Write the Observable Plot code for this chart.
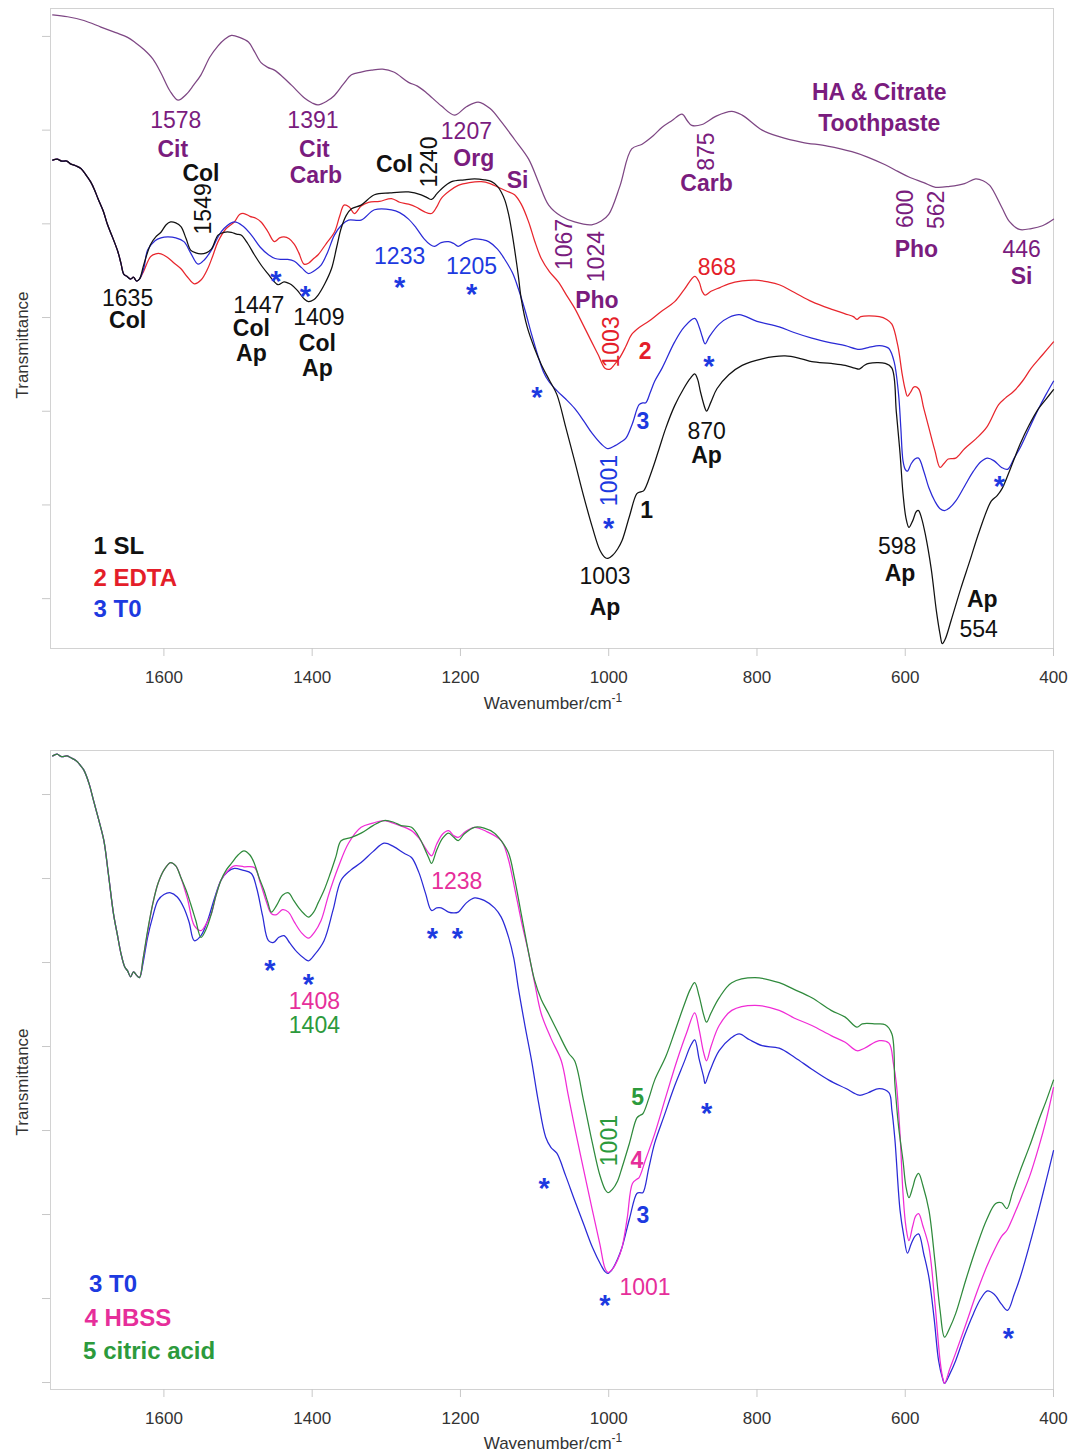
<!DOCTYPE html>
<html><head><meta charset="utf-8">
<script src="https://cdn.jsdelivr.net/npm/d3@7"></script>
<script src="https://cdn.jsdelivr.net/npm/@observablehq/plot@0.6"></script>
<style>
html,body{margin:0;padding:0;background:#fff;}
svg{display:block;}
#bottom{margin-top:20px;}
</style></head><body>
<div id="top"></div><div id="bottom"></div>
<script>
// ---------- DATA (wavenumber cm-1, transmittance a.u.) ----------
const xTicks = [1600, 1400, 1200, 1000, 800, 600, 400];

const toothpaste = [[1750,62.3],[1730,62.1],[1708,61.7],[1685,61.0],[1665,60.4],[1649,59.9],[1638,59.3],[1627,58.6],[1615,57.6],[1604,56.1],[1592,54.2],[1581,53.2],[1570,53.8],[1560,54.8],[1550,55.9],[1538,57.8],[1527,59.0],[1518,59.7],[1509,60.1],[1498,59.9],[1486,59.4],[1478,58.4],[1469,57.2],[1460,56.7],[1451,56.4],[1440,55.7],[1428,54.8],[1410,53.4],[1400,52.9],[1392,52.7],[1380,53.1],[1370,53.7],[1358,54.9],[1347,55.9],[1334,56.2],[1320,56.4],[1305,56.5],[1290,56.2],[1270,55.1],[1258,54.7],[1246,54.0],[1226,52.6],[1208,51.6],[1192,52.5],[1176,53.0],[1160,52.3],[1145,50.9],[1127,49.0],[1108,46.9],[1095,44.5],[1081,42.0],[1064,40.8],[1046,40.2],[1023,39.9],[1010,40.3],[1000,41.0],[985,44.0],[969,48.0],[955,48.5],[940,49.4],[928,50.3],[915,51.0],[901,51.7],[894,51.0],[888,50.5],[874,50.6],[855,51.5],[834,52.0],[820,51.6],[793,50.0],[770,49.3],[739,48.7],[705,48.3],[672,47.7],[650,47.1],[627,46.3],[610,45.6],[595,45.0],[575,44.4],[559,43.9],[540,44.0],[520,44.3],[505,44.8],[495,44.6],[486,44.1],[470,41.8],[459,40.2],[446,39.4],[430,39.5],[415,39.8],[400,40.5]];

const startTop = [[1750,46.8],[1744,46.9],[1738,46.7],[1731,46.7],[1726,46.4],[1719,46.2],[1712,45.9],[1705,45.2],[1699,44.5],[1694,43.7],[1689,42.7],[1682,41.4],[1676,39.9],[1669,38.5],[1662,37.0],[1658,35.8],[1654,34.6],[1650,34.4],[1645,34.1],[1641,34.3],[1637,33.9],[1633,34.1]];

const sl = [[1627,35.7],[1618,37.8],[1611,38.6],[1604,39.1],[1597,39.9],[1591,40.2],[1584,40.1],[1577,39.7],[1570,38.4],[1564,37.2],[1557,36.9],[1550,36.8],[1543,36.9],[1536,37.3],[1527,38.8],[1519,39.1],[1509,39.1],[1502,38.9],[1496,38.8],[1487,37.9],[1478,36.7],[1468,35.5],[1459,34.6],[1452,33.9],[1446,33.5],[1438,33.8],[1433,33.7],[1428,33.5],[1420,32.9],[1411,32.0],[1405,31.7],[1398,31.9],[1392,32.4],[1383,33.6],[1374,35.2],[1367,37.5],[1361,39.5],[1354,40.9],[1347,41.6],[1334,42.0],[1316,43.1],[1295,43.3],[1270,43.4],[1253,43.1],[1245,42.8],[1239,42.6],[1232,43.2],[1226,43.7],[1212,44.5],[1195,44.7],[1181,44.8],[1168,44.7],[1158,44.5],[1150,44.0],[1145,43.4],[1140,42.5],[1135,41.0],[1131,39.3],[1127,37.3],[1122,34.5],[1118,32.0],[1110,29.0],[1100,26.7],[1091,25.0],[1080,23.3],[1070,21.8],[1058,18.3],[1046,14.7],[1034,11.0],[1022,7.6],[1012,5.2],[1005,4.4],[1001,4.3],[995,4.6],[988,5.3],[982,6.2],[972,8.8],[962,11.2],[957,11.4],[953,11.5],[942,13.6],[932,16.0],[923,18.2],[911,20.6],[899,22.4],[890,23.5],[884,24.0],[880,23.4],[876,22.0],[870,20.3],[868,20.0],[862,21.0],[854,22.4],[838,23.9],[820,24.9],[793,25.6],[762,25.9],[740,25.6],[726,25.3],[700,25.1],[681,24.9],[668,24.6],[662,24.5],[655,24.9],[649,25.1],[627,25.1],[618,24.6],[612,19.9],[607,15.5],[603,11.2],[599,8.6],[595,7.6],[590,8.3],[585,9.3],[582,9.4],[578,8.6],[573,6.9],[565,3.2],[558,-1.3],[553,-3.8],[550,-4.8],[546,-4.3],[538,-2.3],[525,1.1],[513,4.0],[500,7.2],[484,10.4],[476,11.0],[469,11.8],[458,13.9],[445,16.5],[433,18.5],[420,20.3],[410,21.3],[400,22.3]];

const edta = [[1627,35.0],[1618,36.5],[1611,36.8],[1604,36.8],[1595,36.4],[1586,35.8],[1577,35.2],[1568,34.3],[1559,33.6],[1550,34.0],[1541,35.2],[1534,36.6],[1527,38.1],[1516,39.5],[1505,40.2],[1498,41.0],[1492,41.1],[1484,40.8],[1476,40.6],[1469,40.2],[1460,39.2],[1451,38.1],[1444,38.5],[1438,38.6],[1431,38.4],[1424,37.8],[1418,36.9],[1411,35.7],[1405,35.8],[1398,36.3],[1392,36.7],[1381,37.9],[1370,39.1],[1363,40.8],[1357,42.0],[1350,41.8],[1343,41.1],[1334,41.9],[1324,42.3],[1309,42.4],[1293,42.7],[1282,42.3],[1270,42.1],[1260,41.8],[1249,41.3],[1239,41.1],[1232,41.8],[1226,42.7],[1215,43.5],[1203,44.1],[1188,44.4],[1172,44.5],[1160,44.3],[1149,43.9],[1138,43.5],[1127,43.1],[1118,42.1],[1108,40.2],[1100,38.2],[1091,36.3],[1080,34.9],[1068,33.8],[1057,32.4],[1046,31.0],[1035,29.3],[1023,27.4],[1014,26.0],[1005,24.6],[998,24.5],[992,25.0],[986,25.6],[977,26.9],[969,28.2],[958,29.0],[946,29.6],[930,30.6],[911,31.7],[898,33.0],[884,34.4],[878,33.8],[874,32.8],[870,32.4],[862,32.8],[850,33.2],[838,33.6],[820,33.9],[803,34.0],[785,33.8],[770,33.5],[750,32.7],[726,31.7],[700,30.9],[681,30.4],[670,30.1],[665,29.8],[660,30.1],[635,30.1],[625,29.8],[618,29.3],[610,27.0],[604,23.9],[600,22.3],[597,21.6],[593,22.0],[588,22.6],[582,22.4],[575,20.3],[568,18.2],[560,15.8],[553,14.0],[548,14.4],[542,14.9],[532,15.0],[520,16.0],[504,17.1],[490,18.3],[474,20.7],[465,21.4],[454,22.1],[442,23.2],[430,24.6],[415,26.0],[400,27.4]];

const t0Top = [[1627,35.3],[1622,37.2],[1612,38.2],[1604,38.5],[1595,38.6],[1584,38.5],[1573,38.1],[1564,36.9],[1554,35.7],[1545,36.2],[1536,37.2],[1527,38.6],[1519,39.5],[1505,40.2],[1494,39.8],[1482,38.8],[1470,37.5],[1459,36.7],[1450,36.3],[1442,36.2],[1433,36.2],[1424,36.0],[1414,35.3],[1405,34.7],[1397,35.0],[1388,35.6],[1379,37.0],[1370,38.8],[1360,39.9],[1351,40.4],[1334,40.4],[1316,41.5],[1293,41.5],[1282,41.2],[1270,40.5],[1260,39.6],[1249,38.4],[1241,37.8],[1235,37.6],[1226,38.0],[1216,38.1],[1209,37.9],[1203,37.6],[1192,38.1],[1181,38.4],[1170,38.3],[1162,38.1],[1150,37.3],[1141,36.3],[1130,34.8],[1122,33.1],[1113,30.8],[1104,28.2],[1095,25.8],[1088,24.2],[1081,23.2],[1070,22.2],[1058,21.3],[1046,20.3],[1034,19.0],[1022,17.6],[1010,16.5],[1001,16.0],[992,16.3],[984,16.7],[977,17.1],[968,18.7],[959,20.7],[954,20.9],[950,20.9],[944,22.0],[938,23.2],[928,24.6],[911,27.4],[898,29.0],[884,29.9],[878,29.0],[874,28.0],[870,27.2],[864,28.0],[851,29.3],[838,30.0],[824,30.3],[800,29.6],[770,29.0],[750,28.4],[726,27.8],[700,27.3],[681,27.0],[662,26.6],[650,26.8],[635,27.0],[627,26.9],[622,26.7],[615,25.3],[609,21.8],[606,18.3],[603,14.7],[600,13.8],[597,13.6],[592,14.4],[587,14.9],[582,15.0],[575,13.6],[568,11.8],[560,10.4],[553,9.6],[547,9.4],[540,9.7],[532,10.4],[520,12.0],[508,13.6],[498,14.6],[489,15.0],[480,14.7],[470,14.0],[462,13.8],[453,15.0],[445,16.1],[432,18.3],[420,20.3],[410,21.8],[400,23.2]];

const startBottom = [[1750,74.6],[1744,74.8],[1738,74.5],[1731,74.6],[1726,74.4],[1718,74.0],[1713,73.5],[1708,72.9],[1701,71.3],[1695,69.3],[1688,67.0],[1681,64.5],[1675,60.6],[1668,55.8],[1663,53.4],[1658,51.1],[1653,49.5],[1649,49.0],[1645,48.3],[1641,48.9],[1637,48.5],[1633,48.2]];

const t0Bottom = [[1628,50.0],[1622,53.0],[1615,55.5],[1608,57.4],[1600,58.1],[1591,58.3],[1582,57.8],[1573,56.5],[1566,54.8],[1559,52.6],[1550,53.2],[1541,55.0],[1532,57.6],[1523,59.8],[1514,60.8],[1505,61.2],[1494,61.0],[1482,60.6],[1475,58.9],[1467,55.6],[1459,52.6],[1452,52.4],[1445,53.0],[1438,53.2],[1430,52.3],[1420,51.2],[1411,50.5],[1405,50.2],[1397,50.9],[1384,52.6],[1372,56.2],[1361,59.8],[1348,61.0],[1334,61.9],[1318,63.2],[1303,64.2],[1290,63.8],[1276,63.0],[1266,62.5],[1256,60.7],[1247,58.2],[1239,56.2],[1232,56.5],[1226,56.5],[1216,56.0],[1209,55.9],[1203,56.0],[1192,57.1],[1181,57.7],[1168,57.4],[1154,56.5],[1145,55.4],[1135,53.0],[1128,50.5],[1122,47.0],[1113,42.5],[1104,38.3],[1095,33.5],[1085,29.2],[1078,28.0],[1070,27.3],[1058,24.6],[1046,21.7],[1034,18.9],[1022,16.1],[1010,13.9],[1005,13.2],[1001,13.0],[995,13.5],[988,14.7],[982,16.1],[972,19.5],[962,22.5],[958,22.6],[954,22.6],[946,25.5],[938,28.5],[925,31.8],[912,35.1],[898,38.2],[890,40.0],[884,40.8],[878,38.5],[872,36.4],[870,35.6],[864,37.0],[851,39.5],[835,41.0],[824,41.5],[810,40.8],[793,40.1],[770,39.8],[749,38.7],[726,37.3],[703,36.0],[680,35.0],[662,34.2],[650,34.5],[635,35.0],[622,34.5],[618,32.4],[614,29.0],[607,20.5],[602,17.5],[597,15.4],[592,16.5],[587,17.4],[582,17.7],[575,15.3],[568,12.5],[561,7.6],[555,2.6],[550,0.6],[547,-0.1],[540,1.0],[532,2.6],[520,5.6],[508,8.2],[498,10.0],[489,10.9],[480,10.5],[470,9.3],[462,8.6],[453,10.5],[445,12.5],[432,16.5],[420,20.5],[410,24.0],[400,27.6]];

const hbss = [[1628,50.5],[1622,53.6],[1615,57.0],[1608,59.4],[1600,61.0],[1591,61.9],[1584,61.5],[1577,60.1],[1568,57.5],[1559,54.4],[1550,53.8],[1543,54.6],[1536,55.8],[1530,57.9],[1523,59.8],[1514,60.9],[1505,61.5],[1492,61.4],[1478,61.3],[1470,59.5],[1462,57.3],[1455,55.8],[1448,55.7],[1440,56.3],[1432,56.0],[1424,54.8],[1414,53.5],[1405,52.9],[1397,53.6],[1388,55.0],[1378,58.0],[1365,61.3],[1351,64.2],[1334,66.1],[1318,66.6],[1303,66.9],[1285,66.4],[1266,65.7],[1255,64.7],[1245,63.3],[1239,62.7],[1232,64.1],[1224,65.3],[1216,65.7],[1209,65.1],[1203,64.9],[1193,65.6],[1181,66.1],[1165,65.6],[1145,64.5],[1136,62.5],[1127,58.9],[1118,55.0],[1108,51.1],[1100,47.6],[1091,43.9],[1078,41.0],[1064,38.3],[1055,34.4],[1046,30.4],[1034,25.4],[1022,20.5],[1012,16.5],[1005,13.6],[1001,13.1],[995,13.5],[988,14.6],[982,16.1],[975,19.6],[968,23.7],[962,24.2],[959,24.4],[950,26.6],[938,29.6],[923,34.0],[908,38.3],[895,41.6],[884,44.0],[878,42.0],[872,39.3],[868,38.3],[862,40.0],[851,42.5],[834,44.3],[803,44.9],[770,44.3],[750,43.4],[726,42.5],[700,41.3],[681,40.5],[665,39.5],[655,39.8],[635,40.7],[622,40.4],[616,38.0],[612,35.6],[607,29.5],[603,22.5],[599,18.5],[595,16.9],[590,18.6],[586,19.8],[582,20.1],[576,18.6],[568,16.1],[560,9.5],[553,2.6],[550,0.8],[547,-0.1],[540,1.6],[532,3.5],[518,7.0],[504,10.6],[490,13.8],[478,16.1],[470,17.4],[463,18.1],[455,19.6],[445,21.7],[432,24.6],[420,28.0],[410,31.2],[400,35.1]];

const citric = [[1628,50.5],[1622,53.8],[1615,57.0],[1608,59.4],[1600,61.0],[1591,61.9],[1584,61.5],[1577,60.1],[1570,58.6],[1564,57.0],[1557,55.0],[1550,53.0],[1543,54.0],[1536,55.8],[1530,57.9],[1523,59.8],[1516,61.0],[1509,61.8],[1500,62.8],[1492,63.3],[1484,62.8],[1478,61.8],[1472,60.2],[1465,58.6],[1460,57.2],[1455,56.0],[1448,56.8],[1440,58.0],[1432,58.3],[1425,57.4],[1418,56.5],[1411,55.8],[1405,55.4],[1398,56.0],[1392,57.1],[1384,58.6],[1376,60.5],[1368,62.6],[1361,64.5],[1347,64.9],[1334,65.4],[1318,66.3],[1303,66.9],[1290,66.7],[1280,66.3],[1266,66.1],[1255,64.8],[1248,63.5],[1243,62.5],[1239,61.8],[1232,63.4],[1224,64.8],[1216,65.4],[1209,64.9],[1203,64.5],[1195,65.3],[1181,66.1],[1168,66.0],[1154,65.4],[1145,64.5],[1135,63.0],[1127,60.0],[1118,55.8],[1109,51.6],[1100,47.9],[1091,45.6],[1081,43.9],[1068,41.6],[1054,39.2],[1046,38.3],[1034,33.6],[1022,28.5],[1012,24.7],[1005,23.0],[1001,22.6],[995,23.0],[988,24.0],[982,25.6],[972,28.5],[962,31.5],[958,31.8],[954,32.0],[946,33.8],[938,36.0],[923,38.8],[910,42.0],[898,45.0],[890,46.8],[884,47.6],[878,46.0],[872,43.8],[868,42.9],[862,44.0],[851,45.8],[834,47.6],[803,48.2],[770,47.6],[750,46.8],[726,45.8],[700,44.3],[681,43.5],[665,42.3],[658,42.7],[640,42.7],[627,42.6],[618,41.5],[614,35.6],[609,30.5],[603,26.4],[599,23.3],[595,22.0],[590,23.2],[586,24.4],[582,24.9],[576,23.4],[568,20.5],[560,14.5],[553,8.6],[547,5.4],[540,6.5],[532,8.2],[518,12.3],[504,16.1],[490,19.4],[478,21.3],[470,21.4],[463,20.7],[455,22.7],[445,25.2],[432,28.2],[420,31.2],[410,33.5],[400,36.0]];

// ---------- ANNOTATIONS (text, anchor wavenumber, anchor transmittance) ----------
const topPurpleNums = [{s:"1578",wn:1584,t:51.0},{s:"1391",wn:1399,t:51.0},{s:"1207",wn:1192,t:49.8},{s:"446",wn:443,t:37.2}];
const topPurpleRot = [{s:"1067",wn:1059,t:37.8},{s:"1024",wn:1016,t:36.5},{s:"875",wn:868,t:47.7},{s:"600",wn:600,t:41.6},{s:"562",wn:557,t:41.5}];
const topPurpleBold = [{s:"Cit",wn:1588,t:47.9},{s:"Cit",wn:1397,t:47.9},{s:"Carb",wn:1395,t:45.1},{s:"Org",wn:1182,t:47.0},{s:"Si",wn:1123,t:44.6},{s:"Pho",wn:1016,t:31.8},{s:"Carb",wn:868,t:44.3},{s:"HA & Citrate",wn:635,t:54.0},{s:"Toothpaste",wn:635,t:50.7},{s:"Pho",wn:585,t:37.3},{s:"Si",wn:443,t:34.4}];
const topBlackNums = [{s:"1635",wn:1649,t:32.0},{s:"1447",wn:1472,t:31.3},{s:"1409",wn:1391,t:30.0},{s:"870",wn:868,t:17.8},{s:"1003",wn:1005,t:2.3},{s:"598",wn:611,t:5.6},{s:"554",wn:501,t:-3.3}];
const topBlackRot = [{s:"1549",wn:1546,t:41.6},{s:"1240",wn:1241,t:46.6}];
const topBlackBold = [{s:"Col",wn:1550,t:45.4},{s:"Col",wn:1649,t:29.7},{s:"Col",wn:1482,t:28.8},{s:"Ap",wn:1482,t:26.1},{s:"Col",wn:1393,t:27.2},{s:"Ap",wn:1393,t:24.5},{s:"Col",wn:1289,t:46.3},{s:"Ap",wn:868,t:15.3},{s:"Ap",wn:1005,t:-1.0},{s:"Ap",wn:607,t:2.7},{s:"Ap",wn:496,t:-0.1},{s:"1",wn:949,t:9.4}];
const topRedNums = [{s:"868",wn:854,t:35.3}];
const topRedRot = [{s:"1003",wn:996,t:27.4}];
const topRedBold = [{s:"2",wn:951,t:26.4}];
const topBlueNums = [{s:"1233",wn:1282,t:36.5},{s:"1205",wn:1185,t:35.4}];
const topBlueRot = [{s:"1001",wn:999,t:12.6}];
const topBlueBold = [{s:"3",wn:954,t:18.9}];
const topStars = [{wn:1449,t:34.7},{wn:1409,t:33.1},{wn:1282,t:34.0},{wn:1185,t:33.3},{wn:1097,t:22.3},{wn:865,t:25.6},{wn:1000,t:8.3},{wn:473,t:12.8}];
const topLegend = [{s:"1 SL",wn:1695,t:5.6,c:"sl"},{s:"2 EDTA",wn:1695,t:2.2,c:"edta"},{s:"3 T0",wn:1695,t:-1.1,c:"t0"}];

const botStars = [{wn:1457,t:50.0},{wn:1405,t:48.3},{wn:1238,t:53.8},{wn:1204,t:53.8},{wn:1087,t:24.0},{wn:1005,t:10.1},{wn:868,t:33.0},{wn:461,t:6.2}];
const botBlueBold = [{s:"3",wn:954,t:19.9}];
const botMagNums = [{s:"1408",wn:1397,t:45.4},{s:"1238",wn:1205,t:59.6},{s:"1001",wn:951,t:11.3}];
const botMagBold = [{s:"4",wn:962,t:26.4}];
const botGreenNums = [{s:"1404",wn:1397,t:42.5}];
const botGreenRot = [{s:"1001",wn:999,t:28.8}];
const botGreenBold = [{s:"5",wn:961,t:33.9}];
const botLegend = [{s:"3 T0",wn:1701,t:11.7,c:"t0"},{s:"4 HBSS",wn:1707,t:7.6,c:"hbss"},{s:"5 citric acid",wn:1709,t:3.7,c:"citric"}];

// ---------- STYLE ----------
const FONT = "'Liberation Sans', Arial, Helvetica, sans-serif";
const C = {
  tpLine:"#7e4784", tpText:"#7a1c7e",
  sl:"#111111", edtaLine:"#e8262d", edta:"#e41e2a",
  t0Line:"#2a2ad6", t0:"#1d3ae0",
  hbssLine:"#f02cd6", hbss:"#e62e9a",
  citricLine:"#2f8a3c", citric:"#2c9a3c"
};
const legendColor = {sl:C.sl, edta:C.edta, t0:C.t0, hbss:C.hbss, citric:C.citric};

const toRows = arr => arr.map(([wn, t]) => ({wn, t}));
const line = (arr, stroke) => Plot.line(toRows(arr), {x:"wn", y:"t", stroke, strokeWidth:1.25, curve:"catmull-rom"});
const txt = (data, fill, o = {}) => Plot.text(data, {x:"wn", y:"t", text:"s", fill, fontSize:o.size ?? 23,
  fontWeight:o.weight ?? "normal", rotate:o.rotate ?? 0, textAnchor:o.anchor ?? "middle", lineAnchor:"middle", dy:o.dy ?? 0});
const stars = (data) => Plot.text(data, {x:"wn", y:"t", text:() => "*", fill:C.t0, fontSize:29, fontWeight:"bold", textAnchor:"middle", lineAnchor:"middle", dy:8});

function panel({height, marginTop, marginBottom, yDomain, yTicks, marks}) {
  return Plot.plot({
    width:1072, height, marginLeft:50, marginRight:19, marginTop, marginBottom,
    x:{domain:[1753, 400]},
    y:{domain:yDomain},
    style:{fontFamily:FONT, background:"#fff", overflow:"visible"},
    marks:[
      Plot.frame({stroke:"#d2d2d2"}),
      Plot.axisX(xTicks, {tickSize:8, stroke:"#c8c8c8", fill:"#333", fontSize:17, tickPadding:14, tickFormat:d => String(d), label:null}),
      Plot.axisY(yTicks, {tickSize:8, stroke:"#c8c8c8", tickFormat:() => "", label:null}),
      ...marks
    ]
  });
}

function addAxisLabels(svg, yCenter, xLabelY) {
  const s = d3.select(svg);
  s.append("text").attr("transform", `translate(22,${yCenter}) rotate(-90)`)
    .attr("text-anchor","middle").attr("dy","0.35em")
    .style("font-family", FONT).style("font-size","17px").attr("fill","#333").text("Transmittance");
  const t = s.append("text").attr("x", 553).attr("y", xLabelY).attr("text-anchor","middle")
    .style("font-family", FONT).style("font-size","17px").attr("fill","#333");
  t.append("tspan").text("Wavenumber/cm");
  t.append("tspan").attr("dy", -7).style("font-size","12px").text("-1");
}

// ---------- TOP PANEL ----------
const topSvg = panel({
  height:715, marginTop:8, marginBottom:67, yDomain:[-5.32, 62.98], yTicks:d3.range(0, 61, 10),
  marks:[
    line(toothpaste, C.tpLine),
    line(startTop.concat(edta), C.edtaLine),
    line(startTop.concat(t0Top), C.t0Line),
    line(startTop.concat(sl), C.sl),
    txt(topPurpleNums, C.tpText),
    txt(topPurpleRot, C.tpText, {rotate:-90}),
    txt(topPurpleBold, C.tpText, {weight:"bold"}),
    txt(topBlackNums, C.sl),
    txt(topBlackRot, C.sl, {rotate:-90}),
    txt(topBlackBold, C.sl, {weight:"bold"}),
    txt(topRedNums, C.edta),
    txt(topRedRot, C.edta, {rotate:-90}),
    txt(topRedBold, C.edta, {weight:"bold"}),
    txt(topBlueNums, C.t0),
    txt(topBlueRot, C.t0, {rotate:-90}),
    txt(topBlueBold, C.t0, {weight:"bold"}),
    stars(topStars),
    Plot.text(topLegend, {x:"wn", y:"t", text:"s", fill:d => legendColor[d.c], fontSize:24, fontWeight:"bold", textAnchor:"start", lineAnchor:"middle"})
  ]
});
addAxisLabels(topSvg, 345, 709);
document.getElementById("top").appendChild(topSvg);

// ---------- BOTTOM PANEL ----------
const botSvg = panel({
  height:721, marginTop:15, marginBottom:67, yDomain:[-0.83, 75.24], yTicks:d3.range(0, 71, 10),
  marks:[
    line(startBottom.concat(t0Bottom), C.t0Line),
    line(startBottom.concat(hbss), C.hbssLine),
    line(startBottom.concat(citric), C.citricLine),
    stars(botStars),
    txt(botBlueBold, C.t0, {weight:"bold"}),
    txt(botMagNums, C.hbss),
    txt(botMagBold, C.hbss, {weight:"bold"}),
    txt(botGreenNums, C.citric),
    txt(botGreenRot, C.citric, {rotate:-90}),
    txt(botGreenBold, C.citric, {weight:"bold"}),
    Plot.text(botLegend, {x:"wn", y:"t", text:"s", fill:d => legendColor[d.c], fontSize:24, fontWeight:"bold", textAnchor:"start", lineAnchor:"middle"})
  ]
});
addAxisLabels(botSvg, 347, 714);
document.getElementById("bottom").appendChild(botSvg);
</script></body></html>
